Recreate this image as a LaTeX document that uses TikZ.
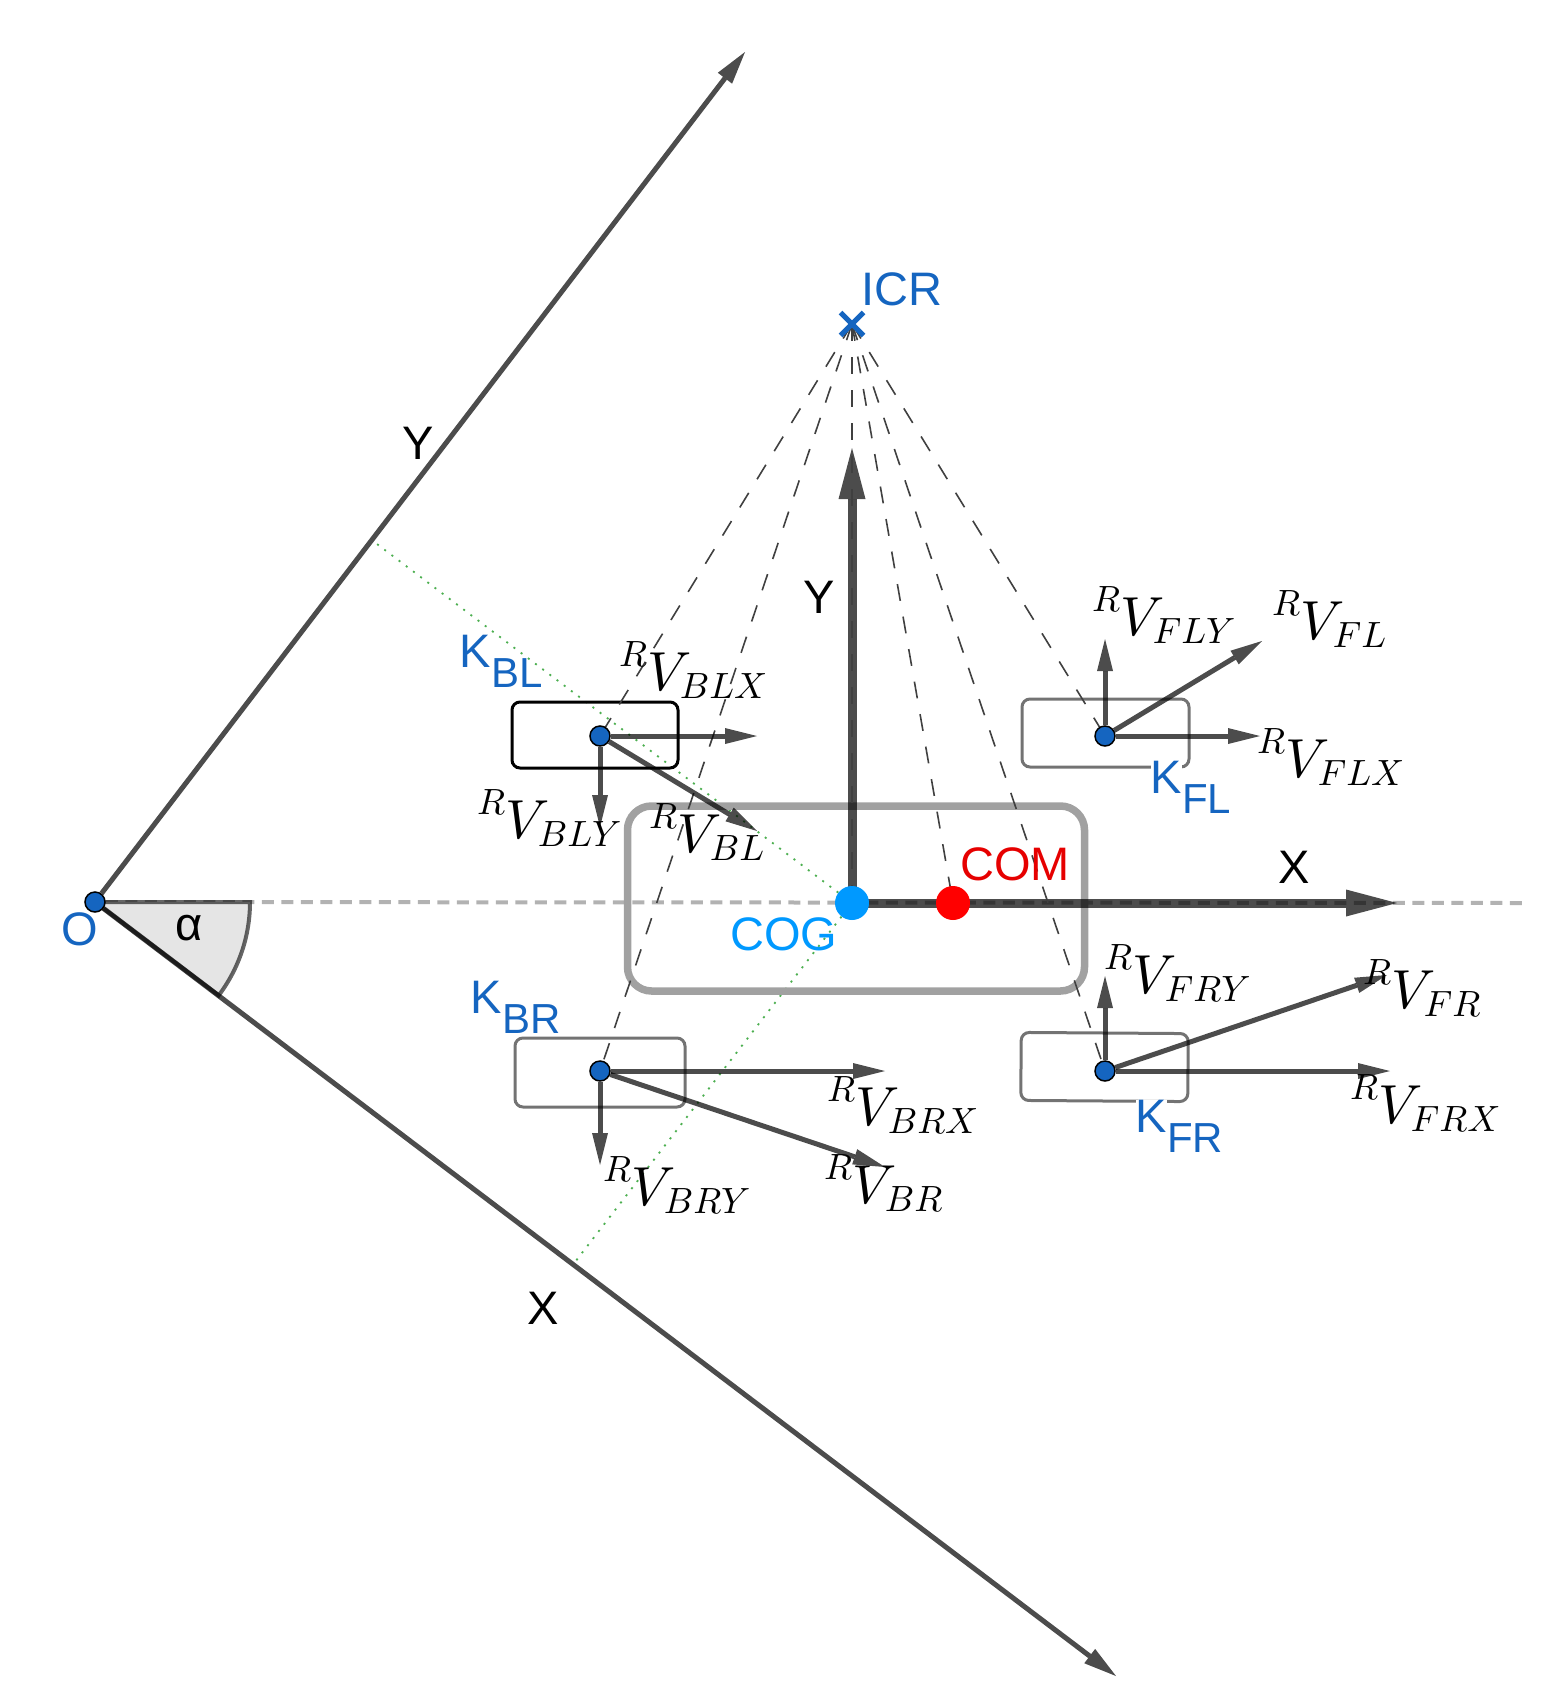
\documentclass[tikz,border=0pt]{standalone}
\usepackage{fontspec}
\setmainfont{Liberation Sans}
\DeclareFontShape{OML}{cmm}{m}{it}{<->cmmi10}{}
\DeclareFontShape{OMS}{cmsy}{m}{n}{<->cmsy10}{}
\DeclareFontShape{OMX}{cmex}{m}{n}{<->cmex10}{}
\DeclareMathSizes{55}{55}{36.5}{28}
\usetikzlibrary{arrows.meta, shapes.misc, backgrounds}
\definecolor{kblue}{HTML}{1565C0}
\definecolor{cogblue}{HTML}{0099FF}
\definecolor{comred}{HTML}{E60000}
\definecolor{footgreen}{HTML}{4CAF50}
\newcommand{\rvel}[1]{$^{\raisebox{4pt}{$\scriptstyle R$}}V_{#1}$}
\newcommand{\ksub}[1]{{\setlength{\fboxsep}{0pt}\colorbox{white}{K}}\raisebox{-20pt}{\fontsize{42}{42}\selectfont #1}}
\tikzset{
    txt/.style={anchor=base west, inner sep=0pt, font=\fontsize{47}{52}\selectfont},
    veltxt/.style={anchor=base west, inner sep=0pt, font=\fontsize{55}{60}\selectfont},
    longaxis/.style={line width=5pt, opacity=.7, -{Triangle[length=33pt,width=18pt,line width=0pt]}},
    vel/.style={line width=5pt, opacity=.7, -{Triangle[length=32pt,width=16pt,line width=0pt]}},
    bigaxis/.style={line width=9pt, opacity=.7, -{Triangle[length=51pt,width=27pt,line width=0pt]}},
    raydash/.style={line width=1.6pt, color=black!75, dash pattern=on 17pt off 16pt},
    footdot/.style={line width=1.8pt, color=footgreen, dash pattern=on 2pt off 7pt},
    kpoint/.style={draw=black, fill=kblue, circle, line width=1.5pt, minimum size=20pt, inner sep=0pt},
    wheel/.style={draw=black!55, rectangle, rounded corners=8pt, line width=3pt, inner sep=0pt},
}
\begin{document}
\begin{tikzpicture}[x=1pt, y=-1pt]
    \useasboundingbox (0,0) rectangle (1553,1697);
    \foreach \name/\x/\y in {o/95/902, kbl/600/736, kfl/1105/736, kbr/600/1071, kfr/1105/1071} {
        \node[kpoint] (\name) at (\x,\y) {};
    }
    \node[circle, fill=cogblue, minimum size=34pt, inner sep=0pt] (cog) at (852,903) {};
    \node[circle, fill=red, minimum size=34pt, inner sep=0pt] (com) at (953,903) {};
    \node[cross out, draw=kblue, line width=5pt, minimum size=18pt, inner sep=0pt] (icr) at (852,324) {};
    \coordinate (yTip) at (745,52);
    \coordinate (xTip) at (1116,1676);
    \coordinate (yFoot) at (373,541);
    \coordinate (xFoot) at (575,1262);
    \coordinate (dashEnd) at (1526,903);
    \coordinate (bigY) at (852,448);
    \coordinate (bigX) at (1397,903);
    \coordinate (arcStart) at (250,902);

    \begin{scope}[on background layer]
        \draw[line width=4pt, color=black!30, dash pattern=on 12pt off 7.5pt] (o) -- (dashEnd);
        \fill[black!10] (o.center) -- (arcStart) arc (0:37.1:155) -- cycle;
        \draw[line width=4pt, opacity=.6] (o.center) -- (arcStart) arc (0:37.1:155) -- cycle;
        \draw[footdot] (cog) -- (yFoot);
        \draw[footdot] (cog) -- (xFoot);

        \node[wheel, minimum width=166pt, minimum height=66pt, draw=black] (wheelBL) at (595,735) {};
        \node[wheel, minimum width=167pt, minimum height=68pt] (wheelFL) at (1105.5,733) {};
        \node[wheel, minimum width=170pt, minimum height=69pt] (wheelBR) at (600,1072.5) {};
        \node[wheel, minimum width=167pt, minimum height=68pt, rotate=-0.4] (wheelFR) at (1104.5,1067) {};
        \node[draw=black!37, rectangle, rounded corners=24pt, line width=7.5pt, minimum width=457pt, minimum height=185pt, inner sep=0pt] (body) at (856,898.5) {};

        \draw[bigaxis] (cog.center) -- (bigY);
        \draw[bigaxis] (cog.center) -- (bigX);
        \draw[longaxis] (o) -- (yTip);
        \draw[longaxis] (o) -- (xTip);

        \foreach \target in {kbl, kbr, cog, com, kfr, kfl} {
            \draw[raydash] (icr.center) -- (\target.center);
        }

        \foreach \start/\xEnd/\yEnd/\tipName in {
            kbl/757/736/tBLX, kbl/600/827/tBLY, kbl/757/831/tBL,
            kfl/1260/736/tFLX, kfl/1105/639/tFLY, kfl/1262/641/tFL,
            kbr/885/1071/tBRX, kbr/600/1165/tBRY, kbr/885/1167/tBR,
            kfr/1390/1071/tFRX, kfr/1105/976/tFRY, kfr/1387/975/tFR} {
            \coordinate (\tipName) at (\xEnd,\yEnd);
            \draw[vel] (\start) -- (\tipName);
        }
    \end{scope}

    \foreach \x/\y/\sub/\lab in {
        619/690/BLX/lBLX, 477/838/BLY/lBLY, 649/852/BL/lBL,
        1092/635/FLY/lFLY, 1272/639/FL/lFL, 1257/777/FLX/lFLX,
        827/1125/BRX/lBRX, 603/1205/BRY/lBRY, 824/1203/BR/lBR,
        1104/993/FRY/lFRY, 1363/1008/FR/lFR, 1350/1123/FRX/lFRX} {
        \node[veltxt] (\lab) at (\x,\y) {\rvel{\sub}};
    }

    \foreach \x/\y/\sub/\lab in {459.5/667/BL/nameBL, 470.5/1013/BR/nameBR, 1150.5/793/FL/nameFL, 1135.5/1132/FR/nameFR} {
        \node[txt, text=kblue] (\lab) at (\x,\y) {\ksub{\sub}};
    }
    \node[txt, text=kblue] (nameO) at (61,945) {O};
    \node[txt, text=kblue] (nameICR) at (861,305) {ICR};
    \node[txt, text=comred] (nameCOM) at (960,880) {COM};
    \node[txt, text=cogblue] (nameCOG) at (730,950) {COG};
    \node[txt] (alpha) at (175,940) {α};
    \node[txt] (longY) at (402,459) {Y};
    \node[txt] (longX) at (527,1324) {X};
    \node[txt] (labY) at (803,613) {Y};
    \node[txt] (labX) at (1278,883) {X};
\end{tikzpicture}
\end{document}
